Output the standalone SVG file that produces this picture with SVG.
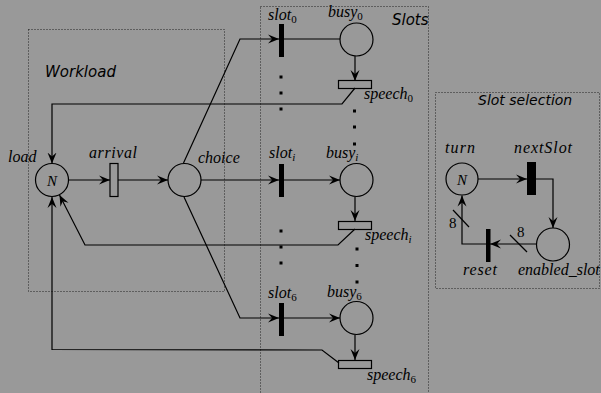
<svg xmlns="http://www.w3.org/2000/svg" width="601" height="393" viewBox="0 0 601 393">
<defs>
<marker id="ah" viewBox="-11 -5 12 10" refX="0" refY="0" markerWidth="12" markerHeight="10" markerUnits="userSpaceOnUse" orient="auto">
<path d="M0,0 L-11,-4.5 L-7,0 L-11,4.5 Z" fill="#000"/>
</marker>
<style>
.box{fill:none;stroke:#222;stroke-width:1;stroke-dasharray:1 2}
.pl{fill:none;stroke:#000;stroke-width:1.2}
.tr{fill:#000}
.sp{fill:none;stroke:#000;stroke-width:1.2}
.arc{fill:none;stroke:#000;stroke-width:1.2}
.ar{marker-end:url(#ah)}
.lbl{font-family:"Liberation Serif",serif;font-style:italic;font-size:16px;fill:#000}
.sub{font-size:11px;font-style:normal}
.subi{font-size:11px;font-style:italic}
.ttl{font-family:"DejaVu Sans",sans-serif;font-style:oblique;font-size:15px;fill:#000}
.num{font-family:"Liberation Serif",serif;font-size:15px;fill:#000}
.dot{fill:#000}
</style>
</defs>
<rect width="601" height="393" fill="#999999"/>

<g id="boxes">
<rect class="box" x="28.5" y="29.5" width="196" height="262"/>
<rect class="box" x="260.5" y="6.5" width="168" height="400"/>
<rect class="box" x="435.5" y="92.5" width="164" height="196"/>
<text class="ttl" x="45" y="77">Workload</text>
<text class="ttl" x="392" y="25">Slots</text>
<text class="ttl" x="478" y="105" style="font-size:14px">Slot selection</text>
</g>

<g id="connectors">
<!-- workload -->
<line class="arc ar" x1="69" y1="180" x2="110" y2="180"/>
<line class="arc ar" x1="118" y1="180" x2="168" y2="180"/>
<!-- choice to slots -->
<polyline class="arc ar" points="183.5,163 240,39 279,39"/>
<line class="arc" x1="284" y1="39" x2="340" y2="39"/>
<line class="arc ar" x1="201" y1="180" x2="279" y2="180"/>
<line class="arc ar" x1="284" y1="180" x2="340" y2="180"/>
<polyline class="arc ar" points="184,197 240,318 279,318"/>
<line class="arc ar" x1="284" y1="318" x2="340" y2="318"/>
<!-- busy to speech -->
<line class="arc ar" x1="355" y1="56" x2="355" y2="81"/>
<line class="arc ar" x1="355" y1="197" x2="355" y2="221"/>
<line class="arc ar" x1="355" y1="335" x2="355" y2="360"/>
<!-- speech back to load -->
<polyline class="arc ar" points="355,88 342,104 52,104 52,163.5"/>
<polyline class="arc ar" points="355,229 338,245 85,245 59.5,195"/>
<polyline class="arc ar" points="339,363 322,350 52,349.5 52,197"/>
<!-- slot selection -->
<line class="arc ar" x1="478" y1="179" x2="527" y2="179"/>
<polyline class="arc ar" points="536,179 553,179 553,228"/>
<line class="arc ar" x1="536.5" y1="244" x2="490" y2="244"/>
<polyline class="arc ar" points="486,244 462,244 462,195.5"/>
<line class="arc" x1="510" y1="235" x2="527" y2="252"/>
<line class="arc" x1="453" y1="210" x2="469" y2="227"/>
<text class="num" x="517" y="237">8</text>
<text class="num" x="449" y="228">8</text>
</g>

<g id="dots">
<rect class="dot" x="279.5" y="75.5" width="3" height="3"/>
<rect class="dot" x="279.5" y="91.5" width="3" height="3"/>
<rect class="dot" x="279.5" y="107.5" width="3" height="3"/>
<rect class="dot" x="353" y="109.5" width="3" height="3"/>
<rect class="dot" x="353" y="125.5" width="3" height="3"/>
<rect class="dot" x="353" y="142.5" width="3" height="3"/>
<rect class="dot" x="279.5" y="229.5" width="3" height="3"/>
<rect class="dot" x="279.5" y="245.5" width="3" height="3"/>
<rect class="dot" x="279.5" y="261.5" width="3" height="3"/>
<rect class="dot" x="355.5" y="247.5" width="3" height="3"/>
<rect class="dot" x="355.5" y="264" width="3" height="3"/>
<rect class="dot" x="355.5" y="280.5" width="3" height="3"/>
</g>

<g id="load">
<circle class="pl" cx="52" cy="180" r="16.5"/>
<text class="lbl" x="52" y="185.5" text-anchor="middle" style="font-size:15px">N</text>
<text class="lbl" x="8" y="162">load</text>
</g>
<g id="arrival">
<rect class="sp" x="110" y="163.5" width="8" height="33"/>
<text class="lbl" x="89" y="158" textLength="48" lengthAdjust="spacing">arrival</text>
</g>
<g id="choice">
<circle class="pl" cx="184.5" cy="180" r="16.5"/>
<text class="lbl" x="198" y="163">choice</text>
</g>

<g id="slot0">
<rect class="tr" x="279" y="24" width="5" height="33"/>
<text class="lbl" x="268" y="20">slot<tspan class="sub" dy="3">0</tspan></text>
</g>
<g id="busy0">
<circle class="pl" cx="356.5" cy="39.5" r="16.5"/>
<text class="lbl" x="328" y="17">busy<tspan class="sub" dy="3">0</tspan></text>
</g>
<g id="speech0">
<rect class="sp" x="338.5" y="80.5" width="33" height="8"/>
<text class="lbl" x="364" y="99">speech<tspan class="sub" dy="3">0</tspan></text>
</g>

<g id="sloti">
<rect class="tr" x="279" y="164" width="5" height="33"/>
<text class="lbl" x="269" y="158">slot<tspan class="subi" dy="3">i</tspan></text>
</g>
<g id="busyi">
<circle class="pl" cx="356.5" cy="180" r="16.5"/>
<text class="lbl" x="326" y="158">busy<tspan class="subi" dy="3">i</tspan></text>
</g>
<g id="speechi">
<rect class="sp" x="338.5" y="221.5" width="33" height="8"/>
<text class="lbl" x="365" y="240">speech<tspan class="subi" dy="3">i</tspan></text>
</g>

<g id="slot6">
<rect class="tr" x="279" y="303" width="5" height="33"/>
<text class="lbl" x="268" y="298">slot<tspan class="sub" dy="3">6</tspan></text>
</g>
<g id="busy6">
<circle class="pl" cx="356.5" cy="318" r="16.5"/>
<text class="lbl" x="327" y="297">busy<tspan class="sub" dy="3">6</tspan></text>
</g>
<g id="speech6">
<rect class="sp" x="338.5" y="360.5" width="33" height="8"/>
<text class="lbl" x="367" y="380">speech<tspan class="sub" dy="3">6</tspan></text>
</g>

<g id="turn">
<circle class="pl" cx="462" cy="179" r="16"/>
<text class="lbl" x="462" y="184.5" text-anchor="middle" style="font-size:15px">N</text>
<text class="lbl" x="445" y="153" textLength="30" lengthAdjust="spacing">turn</text>
</g>
<g id="nextSlot">
<rect class="tr" x="527" y="162" width="9" height="33"/>
<text class="lbl" x="514" y="153" textLength="58" lengthAdjust="spacing">nextSlot</text>
</g>
<g id="enabled_slot">
<circle class="pl" cx="553" cy="244.5" r="16.5"/>
<text class="lbl" x="518" y="275">enabled_slot</text>
</g>
<g id="reset">
<rect class="tr" x="486" y="229" width="4.5" height="33"/>
<text class="lbl" x="463" y="275" textLength="34" lengthAdjust="spacing">reset</text>
</g>
</svg>
